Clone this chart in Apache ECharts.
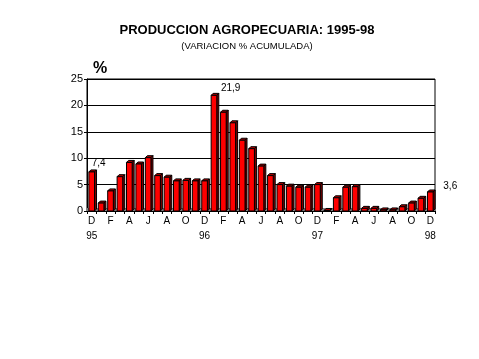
<!DOCTYPE html>
<html>
<head>
<meta charset="utf-8">
<script src="https://cdn.jsdelivr.net/npm/echarts@6/dist/echarts.min.js"></script>
<style>html,body{margin:0;padding:0;background:#fff;}#c{width:479px;height:359px;}</style>
</head>
<body>
<div id="c"></div>
<script>
// Months Dec 1995 .. Dec 1998 (Spanish initials)
const months = ['D','E','F','M','A','M','J','J','A','S','O','N',
                'D','E','F','M','A','M','J','J','A','S','O','N',
                'D','E','F','M','A','M','J','J','A','S','O','N',
                'D'];
const yearLabels = {0:'95', 12:'96', 24:'97', 36:'98'};
const values = [7.4,
  1.5, 3.8, 6.5, 9.2, 8.9, 10.1, 6.7, 6.4, 5.7, 5.8, 5.7, 5.7,
  21.9, 18.7, 16.7, 13.4, 11.8, 8.5, 6.7, 5.0, 4.7, 4.5, 4.5, 5.0,
  0.1, 2.5, 4.5, 4.6, 0.5, 0.5, 0.2, 0.2, 0.8, 1.5, 2.4, 3.6];
const valueLabels = {0:'7,4', 13:'21,9', 36:'3,6'};
const yTicks = [0, 5, 10, 15, 20, 25];

const labelStyle = {
  0:  {dx: 7,  dy: -4, align: 'center'},
  13: {dx: 7,  dy: -2, align: 'left'},
  36: {dx: 13, dy: -1, align: 'left'}
};

const chart = echarts.init(document.getElementById('c'));
const font = 'Liberation Sans, Arial, sans-serif';

function renderItem(params, api) {
  const i = api.value(0), v = api.value(1);
  const top = api.coord([i, v]);
  const base = api.coord([i, 0]);
  const cw = api.size([1, 0])[0];
  const bw = cw * 0.6;
  const d = 2;
  const xl = top[0] - bw / 2, xr = top[0] + bw / 2;
  const children = [
    {type: 'rect', z2: 0, shape: {x: top[0] - cw / 2, y: base[1] - 3, width: cw, height: 3},
     style: {fill: '#808080'}},
    {type: 'polygon', z2: 10, shape: {points: [[xl, top[1]], [xl + d, top[1] - d], [xr + d, top[1] - d], [xr, top[1]]]},
     style: {fill: '#B00000', stroke: '#000', lineWidth: 1}},
    {type: 'polygon', z2: 10, shape: {points: [[xr, top[1]], [xr + d, top[1] - d], [xr + d, base[1] - d], [xr, base[1]]]},
     style: {fill: '#800000', stroke: '#000', lineWidth: 1}},
    {type: 'rect', z2: 11, shape: {x: xl, y: top[1], width: bw, height: base[1] - top[1]},
     style: {fill: '#FF0000', stroke: '#000', lineWidth: 1}}
  ];
  if (valueLabels[i]) {
    const ls = labelStyle[i];
    children.push({type: 'text', z2: 12, x: top[0] + ls.dx, y: top[1] + ls.dy,
      style: {text: valueLabels[i], fill: '#000', font: '10px ' + font, align: ls.align, verticalAlign: 'bottom'}});
  }
  return {type: 'group', children: children};
}

chart.setOption({
  animation: false,
  backgroundColor: '#fff',
  title: {
    text: 'PRODUCCION AGROPECUARIA: 1995-98',
    subtext: '(VARIACION % ACUMULADA)',
    left: 242, top: 19, textAlign: 'center', itemGap: 4,
    textStyle: {fontFamily: font, fontSize: 13, fontWeight: 'bold', color: '#000'},
    subtextStyle: {fontFamily: font, fontSize: 9.5, color: '#000'}
  },
  graphic: [{type: 'text', left: 93, top: 61, style: {text: '%', font: 'bold 16px ' + font, fill: '#000'}}],
  grid: {left: 87, right: 44, top: 79, bottom: 148, show: true, borderColor: '#000', borderWidth: 1, backgroundColor: 'transparent'},
  xAxis: {
    type: 'category', data: months, boundaryGap: true,
    axisLine: {show: true, lineStyle: {color: '#000'}},
    axisTick: {show: true, interval: 0, length: 3, lineStyle: {color: '#000'}},
    axisLabel: {interval: 1, color: '#000', fontFamily: font, fontSize: 10, lineHeight: 15, margin: 3,
      formatter: (val, idx) => yearLabels[idx] ? val + '\n' + yearLabels[idx] : val}
  },
  yAxis: {
    type: 'value', min: yTicks[0], max: yTicks[yTicks.length - 1], interval: 5,
    axisLine: {show: true, lineStyle: {color: '#000'}},
    axisTick: {show: true, length: 3, lineStyle: {color: '#000'}},
    splitLine: {show: true, lineStyle: {color: '#000', width: 1}},
    axisLabel: {color: '#000', fontFamily: font, fontSize: 11, margin: 4}
  },
  series: [
    {type: 'custom', z: 3, renderItem: renderItem, encode: {x: 0, y: 1},
     data: values.map((v, i) => [i, v]), clip: false}
  ]
});
</script>
</body>
</html>
